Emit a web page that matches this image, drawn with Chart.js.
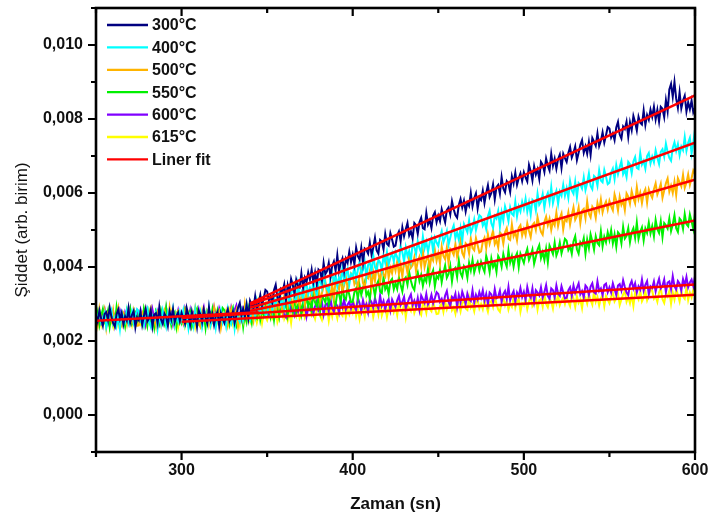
<!DOCTYPE html>
<html lang="tr">
<head>
    <meta charset="UTF-8">
    <title>Şiddet - Zaman</title>
    <style>
        html, body { margin: 0; padding: 0; background: #fff; }
        canvas { display: block; }
    </style>
</head>
<body>
<canvas id="siddetChart" width="709" height="520"></canvas>

<script src="https://cdn.jsdelivr.net/npm/chart.js"></script>
<script>
    // zaman ekseni: 250 - 600 sn, 1 sn aralikla
    const zaman = Array.from({ length: 351 }, (_, i) => 250 + i);

    // siddet degerleri, birim 1e-5 (ornegin 262 = 0,00262), her satir 25 sn
    const s300 = [
        269, 252, 282, 261, 242, 273, 278, 257, 290, 266, 248, 239, 272, 285, 260, 276, 245, 267, 255, 288, 250, 270, 281, 237, 264,
        256, 279, 244, 268, 287, 253, 262, 283, 240, 271, 275, 249, 292, 258, 246, 274, 265, 241, 280, 259, 286, 251, 267, 277, 254,
        276, 260, 247, 289, 270, 243, 279, 255, 266, 238, 282, 272, 251, 284, 263, 248, 291, 257, 273, 244, 268, 278, 240, 275, 261,
        249, 271, 285, 254, 265, 280, 249, 269, 290, 303, 269, 286, 266, 298, 263, 309, 297, 288, 321, 287, 301, 324, 296, 316, 338,
        334, 310, 321, 303, 337, 352, 318, 307, 340, 333, 353, 312, 351, 330, 368, 351, 329, 366, 350, 345, 383, 344, 371, 358, 385,
        366, 393, 359, 385, 353, 393, 388, 365, 411, 381, 389, 411, 374, 403, 415, 390, 432, 389, 410, 423, 389, 422, 411, 441, 413,
        433, 407, 452, 429, 420, 452, 411, 450, 446, 436, 466, 433, 452, 479, 445, 436, 473, 468, 448, 489, 463, 458, 491, 474, 455,
        458, 485, 496, 470, 507, 483, 502, 519, 485, 496, 477, 519, 513, 490, 521, 533, 505, 502, 546, 515, 526, 505, 539, 548, 521,
        539, 524, 556, 538, 521, 554, 561, 542, 578, 556, 540, 533, 568, 584, 561, 579, 550, 574, 565, 600, 564, 586, 599, 558, 587,
        581, 606, 573, 600, 621, 589, 600, 623, 583, 616, 622, 598, 643, 612, 602, 632, 625, 603, 645, 626, 655, 622, 640, 653, 632,
        656, 642, 631, 676, 659, 634, 672, 650, 664, 638, 684, 676, 657, 693, 674, 661, 706, 674, 693, 666, 692, 704, 668, 706, 694,
        684, 708, 724, 696, 709, 726, 689, 709, 730, 743, 709, 726, 706, 738, 703, 749, 739, 728, 761, 727, 741, 764, 736, 756, 778,
        774, 750, 761, 743, 777, 792, 758, 747, 780, 773, 793, 752, 791, 770, 808, 791, 769, 806, 790, 785, 823, 784, 811, 798, 825,
        806, 833, 799, 825, 793, 833, 828, 805, 851, 821, 880, 895, 860, 900, 855, 830, 872, 829, 850, 863, 820, 845, 826, 850, 818, 830
    ];
    const s400 = [
        245, 267, 281, 250, 261, 276, 237, 255, 273, 284, 248, 263, 241, 270, 233, 277, 265, 252, 282, 246, 258, 279, 249, 266, 286,
        280, 254, 263, 242, 274, 287, 251, 238, 268, 259, 277, 234, 271, 247, 283, 264, 240, 275, 256, 249, 285, 244, 269, 253, 278,
        257, 282, 246, 269, 235, 273, 266, 241, 284, 252, 258, 278, 239, 265, 275, 248, 288, 243, 261, 272, 236, 267, 254, 281, 251,
        269, 241, 284, 258, 247, 277, 234, 271, 264, 252, 280, 255, 274, 299, 265, 256, 293, 287, 266, 307, 281, 275, 308, 290, 271,
        274, 301, 312, 284, 321, 297, 316, 332, 297, 308, 289, 330, 324, 300, 331, 343, 314, 311, 354, 323, 333, 312, 346, 354, 326,
        344, 329, 361, 341, 324, 357, 364, 344, 379, 357, 341, 333, 368, 383, 360, 378, 348, 372, 362, 397, 360, 382, 395, 353, 381,
        375, 400, 367, 392, 413, 381, 392, 414, 373, 406, 412, 387, 432, 400, 390, 420, 412, 390, 431, 412, 440, 407, 425, 437, 415,
        439, 425, 414, 457, 440, 415, 453, 430, 443, 417, 463, 454, 435, 470, 451, 438, 482, 450, 468, 441, 466, 478, 442, 479, 466,
        457, 481, 497, 467, 480, 497, 460, 479, 499, 512, 478, 494, 474, 505, 470, 516, 505, 494, 526, 492, 505, 528, 500, 519, 540,
        536, 512, 523, 503, 537, 552, 518, 506, 538, 531, 551, 509, 548, 526, 564, 547, 524, 561, 544, 539, 576, 537, 564, 550, 576,
        557, 584, 550, 574, 542, 582, 577, 553, 598, 568, 576, 597, 560, 588, 600, 575, 616, 573, 593, 606, 571, 604, 593, 622, 593,
        613, 587, 632, 607, 598, 630, 589, 627, 622, 612, 642, 608, 627, 653, 619, 610, 646, 641, 620, 661, 634, 629, 662, 644, 624,
        628, 655, 666, 638, 675, 651, 670, 686, 651, 662, 643, 684, 678, 654, 685, 697, 668, 665, 708, 677, 687, 666, 700, 708, 680,
        698, 683, 715, 695, 678, 711, 718, 698, 733, 711, 695, 687, 722, 737, 714, 732, 702, 726, 716, 751, 714, 736, 749, 707, 735, 772
    ];
    const s500 = [
        272, 244, 287, 261, 250, 280, 237, 274, 267, 255, 283, 248, 265, 289, 253, 242, 277, 270, 247, 286, 258, 251, 282, 262, 241,
        242, 267, 276, 247, 282, 256, 273, 288, 251, 260, 239, 279, 271, 245, 274, 284, 254, 249, 290, 257, 266, 243, 275, 281, 252,
        268, 251, 281, 260, 241, 272, 277, 256, 289, 265, 247, 238, 271, 284, 259, 275, 244, 266, 254, 287, 249, 269, 280, 236, 263,
        255, 278, 243, 267, 286, 252, 261, 282, 239, 270, 274, 254, 299, 266, 256, 285, 277, 255, 295, 277, 304, 270, 288, 299, 277,
        301, 286, 275, 318, 301, 275, 312, 290, 302, 276, 321, 312, 293, 327, 308, 294, 338, 306, 323, 295, 321, 332, 296, 332, 319,
        309, 332, 348, 318, 331, 347, 309, 329, 348, 361, 326, 342, 322, 352, 317, 362, 351, 340, 371, 336, 350, 372, 344, 362, 383,
        378, 353, 364, 344, 378, 392, 357, 346, 377, 370, 389, 347, 386, 363, 401, 383, 360, 397, 379, 373, 411, 371, 398, 383, 409,
        390, 416, 382, 406, 374, 413, 407, 384, 428, 398, 405, 426, 389, 416, 428, 402, 443, 400, 419, 431, 397, 429, 418, 446, 417,
        437, 410, 455, 430, 421, 452, 410, 449, 443, 433, 462, 428, 447, 472, 438, 428, 464, 459, 437, 477, 451, 445, 478, 459, 439,
        442, 468, 479, 451, 488, 463, 481, 498, 462, 473, 453, 494, 488, 463, 494, 505, 476, 473, 515, 483, 494, 472, 506, 513, 485,
        502, 486, 518, 498, 481, 513, 519, 500, 534, 512, 495, 487, 522, 536, 513, 530, 500, 524, 513, 547, 511, 532, 545, 502, 530,
        524, 548, 515, 540, 561, 528, 538, 561, 519, 552, 557, 532, 577, 544, 534, 563, 555, 533, 573, 553, 582, 548, 566, 577, 555,
        579, 564, 553, 596, 579, 553, 590, 568, 580, 554, 599, 590, 571, 605, 586, 572, 616, 584, 601, 573, 599, 610, 574, 610, 597,
        587, 610, 626, 596, 609, 625, 587, 607, 626, 639, 604, 620, 600, 630, 595, 640, 629, 618, 649, 614, 628, 650, 622, 640, 661, 652
    ];
    const s550 = [
        255, 278, 243, 267, 286, 252, 261, 282, 239, 270, 274, 248, 291, 257, 245, 273, 264, 240, 279, 258, 285, 250, 266, 276, 253,
        275, 259, 246, 288, 269, 242, 278, 254, 265, 237, 281, 271, 250, 283, 262, 247, 290, 256, 272, 243, 267, 277, 239, 274, 260,
        248, 270, 284, 253, 264, 279, 240, 258, 276, 287, 251, 266, 244, 273, 236, 280, 268, 255, 285, 249, 261, 282, 252, 269, 289,
        283, 257, 266, 245, 277, 290, 254, 241, 271, 262, 281, 239, 277, 253, 290, 272, 249, 285, 267, 261, 298, 258, 284, 269, 295,
        275, 301, 266, 290, 257, 296, 290, 266, 310, 279, 286, 307, 269, 296, 307, 281, 322, 278, 297, 309, 274, 306, 294, 322, 293,
        312, 285, 329, 304, 294, 325, 283, 321, 315, 304, 333, 299, 317, 342, 307, 297, 333, 327, 305, 345, 318, 312, 344, 325, 305,
        306, 332, 342, 314, 350, 325, 343, 359, 323, 333, 313, 354, 347, 322, 352, 363, 334, 330, 372, 340, 350, 328, 361, 368, 340,
        357, 341, 372, 352, 334, 366, 372, 352, 386, 363, 346, 338, 372, 386, 362, 379, 349, 372, 361, 395, 358, 379, 391, 348, 376,
        369, 393, 359, 384, 404, 371, 381, 403, 361, 393, 398, 373, 417, 384, 373, 402, 394, 371, 411, 391, 419, 385, 402, 413, 391,
        414, 399, 387, 430, 412, 386, 423, 400, 412, 387, 430, 421, 401, 435, 415, 401, 445, 412, 429, 401, 426, 437, 400, 436, 423,
        411, 434, 449, 419, 431, 447, 409, 428, 447, 459, 424, 440, 419, 449, 413, 458, 447, 435, 466, 431, 444, 466, 437, 455, 476,
        471, 446, 456, 436, 469, 483, 448, 436, 467, 459, 478, 436, 474, 451, 488, 470, 447, 483, 465, 459, 496, 456, 482, 467, 493,
        473, 499, 464, 488, 455, 494, 488, 464, 508, 477, 484, 505, 467, 494, 505, 479, 520, 476, 495, 507, 472, 504, 492, 520, 491,
        510, 483, 527, 502, 492, 523, 481, 519, 513, 504, 531, 497, 515, 540, 505, 495, 531, 525, 503, 543, 516, 510, 542, 523, 503, 546
    ];
    const s600 = [
        281, 260, 267, 251, 276, 287, 258, 247, 271, 264, 279, 244, 274, 255, 283, 268, 249, 277, 262, 256, 285, 252, 272, 259, 279,
        263, 283, 254, 272, 245, 275, 270, 250, 284, 259, 263, 279, 248, 269, 277, 255, 287, 251, 266, 275, 246, 271, 260, 282, 258,
        273, 251, 286, 265, 257, 282, 247, 277, 271, 263, 285, 257, 272, 291, 262, 254, 282, 277, 258, 290, 268, 262, 288, 272, 255,
        257, 277, 285, 262, 290, 270, 284, 296, 266, 275, 258, 290, 284, 264, 287, 296, 272, 268, 301, 275, 282, 264, 291, 295, 272,
        285, 271, 296, 280, 264, 290, 294, 277, 304, 286, 271, 264, 291, 302, 282, 296, 271, 288, 279, 306, 276, 292, 302, 266, 288,
        283, 301, 274, 293, 308, 282, 289, 306, 272, 298, 301, 280, 315, 288, 279, 302, 295, 276, 307, 291, 313, 285, 298, 306, 288,
        306, 293, 283, 317, 302, 281, 310, 291, 300, 278, 313, 305, 290, 316, 299, 288, 323, 295, 308, 286, 305, 313, 284, 312, 301,
        292, 310, 322, 297, 306, 319, 288, 302, 316, 326, 297, 309, 293, 316, 286, 323, 313, 303, 327, 299, 308, 325, 302, 316, 332,
        327, 306, 314, 298, 323, 335, 306, 295, 319, 313, 328, 293, 324, 305, 333, 319, 300, 328, 313, 308, 337, 304, 325, 312, 332,
        317, 337, 309, 327, 300, 331, 326, 306, 340, 316, 320, 336, 306, 327, 335, 314, 346, 310, 325, 335, 306, 331, 321, 343, 319,
        333, 311, 346, 325, 317, 342, 307, 337, 331, 323, 345, 317, 332, 351, 322, 314, 342, 337, 318, 350, 328, 322, 348, 332, 315,
        317, 337, 345, 322, 350, 330, 344, 356, 326, 335, 318, 350, 344, 324, 347, 356, 332, 328, 361, 335, 342, 324, 351, 355, 332,
        345, 331, 356, 340, 324, 350, 354, 337, 364, 346, 331, 324, 351, 362, 342, 356, 331, 348, 339, 366, 336, 352, 362, 326, 348,
        343, 361, 334, 353, 368, 342, 349, 366, 332, 358, 361, 340, 375, 348, 339, 362, 355, 336, 367, 351, 373, 345, 358, 366, 348, 376
    ];
    const s615 = [
        241, 261, 268, 245, 273, 252, 266, 278, 248, 256, 239, 271, 264, 244, 267, 275, 251, 247, 280, 253, 260, 242, 268, 272, 249,
        262, 248, 272, 256, 240, 265, 269, 252, 279, 260, 245, 238, 264, 275, 255, 268, 243, 260, 251, 277, 247, 263, 272, 236, 258,
        250, 268, 240, 260, 275, 248, 255, 273, 239, 264, 267, 247, 281, 254, 245, 267, 261, 242, 273, 256, 279, 251, 263, 271, 254,
        272, 259, 248, 283, 268, 246, 275, 257, 266, 243, 278, 271, 255, 281, 264, 252, 288, 260, 273, 250, 270, 278, 248, 276, 266,
        256, 274, 285, 261, 270, 282, 251, 266, 280, 289, 260, 273, 256, 279, 249, 285, 276, 266, 290, 261, 271, 288, 264, 278, 295,
        289, 268, 275, 260, 285, 296, 267, 257, 281, 274, 289, 255, 285, 266, 294, 279, 261, 289, 274, 268, 298, 265, 285, 272, 293,
        277, 297, 268, 287, 260, 290, 285, 266, 300, 275, 279, 296, 265, 286, 294, 272, 305, 269, 284, 293, 265, 290, 279, 301, 278,
        292, 270, 304, 284, 276, 300, 265, 296, 290, 281, 303, 276, 290, 309, 280, 271, 300, 295, 276, 307, 286, 280, 305, 289, 273,
        274, 294, 301, 279, 307, 286, 300, 313, 283, 291, 274, 307, 300, 280, 303, 311, 288, 284, 317, 290, 298, 280, 306, 310, 288,
        300, 286, 310, 295, 279, 304, 308, 292, 319, 300, 285, 279, 305, 316, 296, 309, 285, 302, 293, 319, 290, 306, 315, 279, 302,
        296, 314, 286, 306, 321, 294, 301, 319, 285, 310, 313, 293, 327, 300, 291, 313, 307, 288, 319, 302, 325, 297, 309, 317, 300,
        318, 305, 294, 329, 314, 292, 321, 303, 312, 289, 324, 317, 301, 327, 310, 298, 334, 306, 319, 296, 316, 324, 294, 322, 312,
        302, 320, 331, 307, 316, 328, 297, 312, 326, 335, 306, 319, 302, 325, 295, 331, 322, 312, 336, 307, 317, 334, 310, 324, 341,
        335, 314, 321, 306, 331, 342, 313, 303, 327, 320, 335, 301, 331, 312, 340, 325, 307, 335, 320, 314, 344, 311, 331, 318, 339, 350
    ];

    // lineer fit uc noktalari [zaman, siddet]
    const fitTaban = [[250, 0.00255], [345, 0.00278]];
    const fit300 = [[340, 0.00302], [600, 0.00864]];
    const fit400 = [[340, 0.00298], [600, 0.00736]];
    const fit500 = [[340, 0.00290], [600, 0.00636]];
    const fit550 = [[340, 0.00282], [600, 0.00526]];
    const fit600 = [[300, 0.00262], [600, 0.00353]];
    const fit615 = [[300, 0.00252], [600, 0.00325]];

    const etiketler = ['300°C', '400°C', '500°C', '550°C', '600°C', '615°C', 'Liner fit'];
    const renkler = ['#000080', '#00FFFF', '#FFB400', '#00F000', '#8000FF', '#FFFF00', '#FF0000'];
    const seriler = [s300, s400, s500, s550, s600, s615];
    const fitler = [fitTaban, fit300, fit400, fit500, fit550, fit600, fit615];

    const FONT = '"Liberation Sans", Arial, sans-serif';

    const datasets = seriler.map((s, k) => ({
        label: etiketler[k],
        data: zaman.map((t, i) => ({ x: t, y: s[i] * 1e-5 })),
        borderColor: renkler[k],
        borderWidth: 2,
        pointRadius: 0,
        tension: 0,
        order: 1
    }));
    fitler.forEach(f => {
        datasets.push({
            label: 'Liner fit',
            data: f.map(p => ({ x: p[0], y: p[1] })),
            borderColor: renkler[6],
            borderWidth: 2.5,
            pointRadius: 0,
            order: 0
        });
    });

    // cerceve ve tik cizgileri
    const cercevePlugin = {
        id: 'cerceve',
        afterDatasetsDraw(chart) {
            const { ctx, chartArea: a, scales: { x, y } } = chart;
            ctx.save();
            ctx.strokeStyle = '#000';
            ctx.lineWidth = 2.6;
            ctx.strokeRect(a.left, a.top, a.right - a.left, a.bottom - a.top);
            ctx.lineWidth = 2.2;
            ctx.beginPath();
            x.ticks.forEach(t => {
                const px = x.getPixelForValue(t.value);
                const len = t.value % 100 === 0 ? 8 : 5;
                ctx.moveTo(px, a.bottom); ctx.lineTo(px, a.bottom + len);
                ctx.moveTo(px, a.top); ctx.lineTo(px, a.top + len);
            });
            y.ticks.forEach(t => {
                const py = y.getPixelForValue(t.value);
                const len = Math.round(t.value * 1000) % 2 === 0 ? 8 : 5;
                ctx.moveTo(a.left, py); ctx.lineTo(a.left - len, py);
                ctx.moveTo(a.right, py); ctx.lineTo(a.right - len, py);
            });
            ctx.stroke();
            ctx.restore();
        }
    };

    // grafik icindeki aciklama kutusu
    const aciklamaPlugin = {
        id: 'aciklama',
        afterDraw(chart) {
            const { ctx, chartArea: a } = chart;
            ctx.save();
            ctx.font = 'bold 16px ' + FONT;
            ctx.textBaseline = 'middle';
            ctx.fillStyle = '#111';
            etiketler.forEach((e, i) => {
                const yy = a.top + 17 + i * 22.4;
                ctx.strokeStyle = renkler[i];
                ctx.lineWidth = 2.3;
                ctx.beginPath();
                ctx.moveTo(a.left + 11, yy);
                ctx.lineTo(a.left + 52, yy);
                ctx.stroke();
                ctx.fillText(e, a.left + 56, yy + 1);
            });
            ctx.restore();
        }
    };

    new Chart(document.getElementById('siddetChart').getContext('2d'), {
        type: 'line',
        data: { datasets },
        options: {
            responsive: false,
            animation: false,
            layout: { padding: { left: 0, right: 14, top: 8, bottom: 0 } },
            plugins: {
                legend: { display: false },
                tooltip: { enabled: false }
            },
            scales: {
                x: {
                    type: 'linear',
                    min: 250,
                    max: 600,
                    grid: { display: false, drawTicks: false },
                    border: { display: false },
                    ticks: {
                        stepSize: 50,
                        padding: 9,
                        autoSkip: false,
                        maxRotation: 0,
                        color: '#111',
                        font: { family: FONT, size: 16, weight: 'bold' },
                        callback: v => (v % 100 === 0 ? String(v) : '')
                    },
                    title: {
                        display: true,
                        text: 'Zaman (sn)',
                        color: '#111',
                        font: { family: FONT, size: 17, weight: 'bold' },
                        padding: { top: 0, bottom: 5 }
                    },
                    afterFit: s => {
                        s.height = 68;
                        s.paddingLeft = 0;
                        s.paddingRight = 0;
                    }
                },
                y: {
                    min: -0.001,
                    max: 0.011,
                    grid: { display: false, drawTicks: false },
                    border: { display: false },
                    ticks: {
                        stepSize: 0.001,
                        padding: 13,
                        autoSkip: false,
                        color: '#111',
                        font: { family: FONT, size: 16, weight: 'bold' },
                        callback: v => {
                            const m = Math.round(v * 1000);
                            return m % 2 === 0 && m >= 0 ? (m / 1000).toFixed(3).replace('.', ',') : '';
                        }
                    },
                    title: {
                        display: true,
                        text: 'Şiddet (arb. birim)',
                        color: '#111',
                        font: { family: FONT, size: 17, weight: 'normal' },
                        padding: { top: 12, bottom: 0 }
                    },
                    afterFit: s => {
                        s.width = 96;
                        s.paddingTop = 0;
                        s.paddingBottom = 0;
                    }
                }
            }
        },
        plugins: [cercevePlugin, aciklamaPlugin]
    });
</script>
</body>
</html>
